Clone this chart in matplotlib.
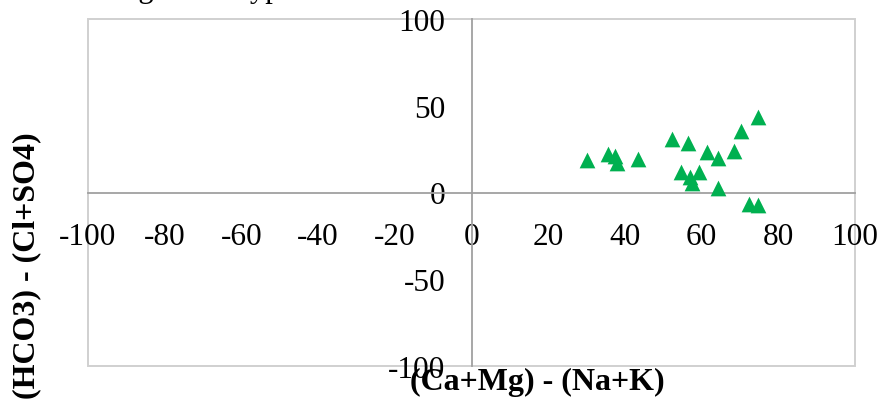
import matplotlib
matplotlib.use("Agg")
import matplotlib.pyplot as plt
from matplotlib.patches import Rectangle

# Data
x_vals = [30.0, 35.7, 37.5, 37.9, 43.5, 52.3, 56.5, 54.6, 59.3, 57.0,
          57.4, 61.3, 64.2, 68.5, 70.4, 74.8, 64.4, 72.4, 74.8]
y_vals = [18.6, 22.1, 21.0, 17.2, 19.4, 30.7, 28.6, 12.0, 12.1, 9.0,
          5.5, 23.1, 20.1, 24.0, 35.5, 43.6, 2.5, -6.8, -7.0]
x_ticks = [-100, -80, -60, -40, -20, 0, 20, 40, 60, 80, 100]
y_ticks = [-100, -50, 0, 50, 100]
x_label = "(Ca+Mg) - (Na+K)"
y_label = "(HCO3) - (Cl+SO4)"
caption = "Chadha diagram of types"

plt.rcParams['font.family'] = ['Liberation Serif', 'DejaVu Serif']

W, H = 883, 406
fig = plt.figure(figsize=(W / 100, H / 100), dpi=100)
ax = fig.add_axes([88 / W, 1 - 367 / H, (855 - 88) / W, (367 - 20) / H])

ax.set_xlim(-100, 100)
ax.set_ylim(-100, 100)

ax.scatter(x_vals, y_vals, marker='^', s=128, color='#00B050',
           linewidths=0, zorder=3)

# center axis lines
ax.spines['left'].set_position(('data', 0))
ax.spines['bottom'].set_position(('data', 0))
for s in ('left', 'bottom'):
    ax.spines[s].set_color('#a0a0a0')
    ax.spines[s].set_linewidth(1.3)
for s in ('top', 'right'):
    ax.spines[s].set_visible(False)

# outer plot-area border
ax.add_patch(Rectangle((0, 0), 1, 1, transform=ax.transAxes, fill=False,
                       edgecolor='#d0d0d0', linewidth=1.4, clip_on=False,
                       zorder=0))

ax.set_xticks(x_ticks)
ax.set_yticks(y_ticks)
ax.set_xticklabels([str(v) for v in x_ticks])
ax.set_yticklabels([str(v) for v in y_ticks])
ax.tick_params(axis='both', length=0, labelsize=22.5, colors='black')
ax.tick_params(axis='x', pad=21)
ax.tick_params(axis='y', pad=19)

fig.text(537 / W, 1 - 382 / H, x_label, fontsize=23, fontweight='bold',
         ha='center', va='center')
fig.text(27 / W, 1 - 266 / H, y_label, fontsize=23, fontweight='bold',
         ha='center', va='center', rotation=90)

fig.text(0.0, 1 + 2.6 / H, caption, fontsize=22, ha='left', va='baseline')

fig.savefig("out.png", dpi=100)
